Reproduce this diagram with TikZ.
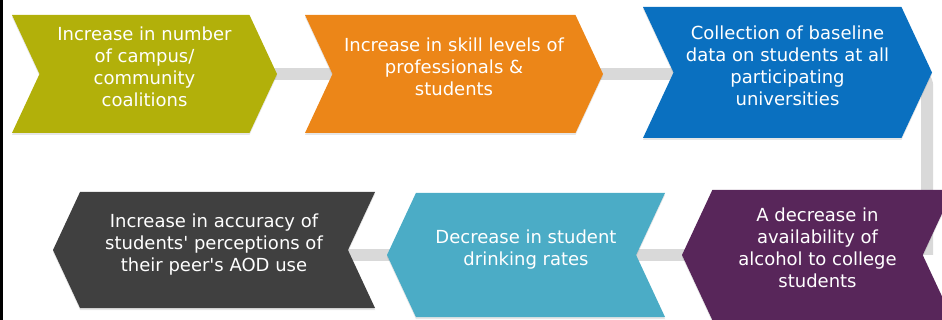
\documentclass[tikz,border=0pt]{standalone}
\usepackage{fontspec}
\newfontfamily\chevfont{DejaVu Sans}
\usetikzlibrary{shapes.symbols,shadows,backgrounds}

\definecolor{olivebox}{RGB}{178,176,10}
\definecolor{orangebox}{RGB}{236,134,24}
\definecolor{bluebox}{RGB}{10,112,192}
\definecolor{purplebox}{RGB}{88,38,90}
\definecolor{tealbox}{RGB}{75,172,198}
\definecolor{darkbox}{RGB}{64,64,64}
\definecolor{linkgray}{RGB}{217,217,217}

\begin{document}
\begin{tikzpicture}[x=1pt,y=-1pt,
    chev/.style={signal,signal pointer angle=130,text=white,align=center,
      font=\chevfont\fontsize{18}{22}\selectfont,inner sep=0pt,text depth=14pt,
      drop shadow={opacity=0.2,shadow xshift=0pt,shadow yshift=-2pt}},
    fwd/.style={chev,signal from=west,signal to=east},
    bwd/.style={chev,signal from=east,signal to=west},
    link/.style={draw=linkgray,line width=12pt}]
    \useasboundingbox (0,0) rectangle (942,320);
    \fill (0,0) rectangle (2.5,320);
    % top row, left to right
    \node[fwd,fill=olivebox,minimum width=265,minimum height=118] (coal) at (144.5,74)
        {Increase in number\\of campus/\\community\\coalitions};
    \node[fwd,fill=orangebox,minimum width=298,minimum height=118] (skill) at (454,74)
        {Increase in skill levels of\\professionals \&\\students};
    \node[fwd,fill=bluebox,minimum width=289,minimum height=131] (base) at (787.5,72.5)
        {Collection of baseline\\data on students at all\\participating\\universities};
    % bottom row, right to left
    \node[bwd,fill=purplebox,minimum width=271,minimum height=130] (avail) at (817.5,255)
        {A decrease in\\availability of\\alcohol to college\\students};
    \node[bwd,fill=tealbox,minimum width=278,minimum height=124] (drink) at (526,255)
        {Decrease in student\\drinking rates};
    \node[bwd,fill=darkbox,minimum width=322,minimum height=116] (percep) at (214,250)
        {Increase in accuracy of\\students' perceptions of\\their peer's AOD use};
    \begin{scope}[on background layer]
        \draw[link] (coal.center) -- (skill.center);
        \draw[link] (skill.center) -- (base.center |- skill.center);
        \draw[link,rounded corners=14pt] (base.center) -| ([xshift=-5pt]base.east |- avail.center);
        \draw[link] (avail.center) -- (drink.center);
        \draw[link] (drink.center) -- (percep.center |- drink.center);
    \end{scope}
\end{tikzpicture}
\end{document}
